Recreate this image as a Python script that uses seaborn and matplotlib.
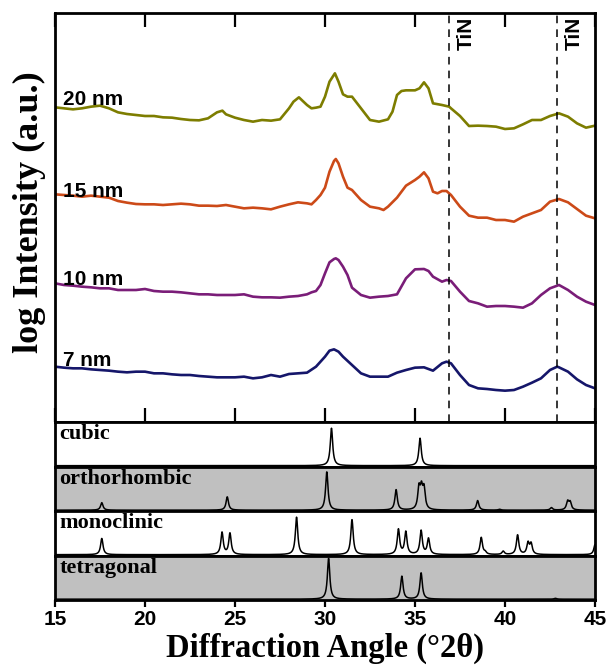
import numpy as np
import pandas as pd
import matplotlib
matplotlib.use("Agg")
import matplotlib.pyplot as plt
import seaborn as sns

# ---------------- data ----------------
# main XRD traces: angle (deg 2theta) and offset log-intensity (arb. units)
x20 = [15, 15.5, 16, 16.5, 17, 17.5, 18, 18.5, 19, 19.5, 20, 20.5, 21, 21.5, 22, 22.5, 23, 23.5,
       24, 24.3, 24.5, 25, 25.5, 26, 26.5, 27, 27.5, 28, 28.25, 28.55, 29, 29.25, 29.5, 29.75,
       30, 30.25, 30.55, 30.75, 31, 31.25, 31.5, 32, 32.5, 33, 33.5, 33.75, 34, 34.25, 34.5, 35,
       35.25, 35.5, 35.75, 36, 36.5, 36.9, 37, 37.5, 38, 38.5, 39, 39.5, 40, 40.5, 41, 41.5, 42,
       42.5, 43, 43.5, 44, 44.5, 45]
zy20 = [157, 160, 163, 160, 155, 152, 160, 172, 177, 180, 183, 183, 187, 188, 192, 195, 196, 190,
        172, 167, 178, 188, 195, 200, 195, 197, 193, 160, 140, 127, 150, 160, 158, 155,
        125, 80, 55, 80, 118, 125, 125, 160, 195, 200, 193, 170, 120, 108, 106, 106,
        100, 82, 100, 145, 150, 155, 160, 183, 213, 212, 213, 215, 222, 220, 208, 195, 195,
        183, 175, 185, 205, 218, 212]
i20 = [367 - v / 3 for v in zy20]

x15 = [15, 15.5, 16, 16.5, 17, 17.5, 18, 18.5, 19, 19.5, 20, 20.5, 21, 21.5, 22, 22.5, 23, 23.5,
       24, 24.5, 25, 25.5, 26, 26.5, 27, 27.5, 28, 28.5, 29, 29.25, 29.5, 29.75, 30, 30.25, 30.5,
       30.6, 30.75, 31, 31.25, 31.5, 32, 32.5, 33, 33.25, 33.5, 34, 34.5, 35, 35.25, 35.5, 35.75,
       36, 36.25, 36.5, 36.75, 37, 37.5, 38, 38.5, 39, 39.5, 40, 40.5, 41, 41.5, 42, 42.5, 43,
       43.5, 44, 44.5, 45]
zy15 = [148, 150, 152, 155, 152, 155, 158, 168, 173, 177, 178, 178, 180, 178, 176, 178, 182, 182,
        183, 180, 185, 190, 188, 190, 193, 185, 178, 172, 175, 178, 165, 150, 128, 80, 48,
        42, 55, 95, 128, 135, 165, 185, 190, 195, 185, 158, 122, 105, 95, 82, 100,
        140, 145, 138, 138, 150, 185, 212, 218, 218, 225, 225, 230, 215, 205, 195, 170, 162,
        172, 192, 212, 220]
i15 = [277 - v / 3 for v in zy15]

x10 = [15, 15.5, 16, 16.5, 17, 17.5, 18, 18.5, 19, 19.5, 20, 20.5, 21, 21.5, 22, 22.5, 23, 23.5,
       24, 24.5, 25, 25.5, 26, 26.5, 27, 27.5, 28, 28.5, 29, 29.25, 29.5, 29.75, 30, 30.25, 30.5,
       30.6, 30.75, 31, 31.25, 31.5, 32, 32.5, 33, 33.5, 34, 34.5, 35, 35.5, 35.75, 36, 36.5,
       36.75, 37, 37.5, 38, 38.5, 39, 39.5, 40, 40.5, 41, 41.5, 42, 42.5, 43, 43.5, 44, 44.5, 45]
zy10 = [145, 150, 152, 155, 157, 160, 160, 165, 165, 165, 162, 168, 170, 170, 172, 175, 178, 178,
        180, 180, 180, 178, 185, 187, 187, 188, 185, 183, 178, 172, 168, 150, 115, 82, 72,
        70, 75, 95, 120, 158, 180, 188, 185, 183, 178, 130, 103, 102, 108, 125, 140,
        135, 138, 170, 198, 205, 215, 213, 213, 215, 218, 205, 180, 160, 150, 165, 185, 200, 210]
i10 = [187 - v / 3 for v in zy10]

x7 = [15, 15.5, 16, 16.5, 17, 17.5, 18, 18.5, 19, 19.5, 20, 20.5, 21, 21.5, 22, 22.5, 23, 23.5,
      24, 24.5, 25, 25.5, 26, 26.5, 27, 27.5, 28, 28.5, 29, 29.5, 30, 30.25, 30.5, 30.75, 31,
      31.5, 32, 32.5, 33, 33.5, 34, 34.5, 35, 35.5, 36, 36.5, 36.75, 37, 37.5, 38, 38.5, 39,
      39.5, 40, 40.5, 41, 41.5, 42, 42.5, 42.9, 43, 43.5, 44, 44.5, 45]
zy7 = [140, 143, 145, 145, 148, 150, 152, 155, 157, 155, 155, 160, 160, 163, 165, 165, 168, 170,
       172, 172, 172, 170, 175, 172, 165, 170, 162, 160, 158, 140, 110, 92, 88, 95, 110,
       135, 160, 170, 170, 170, 158, 150, 143, 142, 152, 130, 125, 130, 165, 195, 205, 207,
       210, 212, 210, 200, 188, 175, 150, 140, 142, 155, 178, 195, 205]
i7 = [102 - v / 3 for v in zy7]

sample_labels = ["20 nm", "15 nm", "10 nm", "7 nm"]
sample_colors = ["#7d7d00", "#cc4a18", "#7a1d78", "#15166a"]
label_y = [317, 225, 137, 56]

tin_positions = [36.9, 42.9]

# reference phases: peak positions (deg) and relative heights
phase_names = ["cubic", "orthorhombic", "monoclinic", "tetragonal"]
cubic_pos = [30.36, 35.28]
cubic_h = [0.90, 0.66]
ortho_pos = [17.6, 24.57, 30.1, 33.95, 35.22, 35.36, 35.5, 38.48, 39.7, 42.58, 43.48, 43.62]
ortho_h = [0.18, 0.32, 0.92, 0.49, 0.50, 0.46, 0.48, 0.23, 0.02, 0.06, 0.20, 0.18]
mono_pos = [17.6, 24.28, 24.72, 28.42, 31.5, 34.08, 34.49, 35.34, 35.75, 38.68, 38.9, 39.9,
            40.7, 41.28, 41.45, 45.0]
mono_h = [0.39, 0.53, 0.51, 0.90, 0.84, 0.60, 0.54, 0.57, 0.38, 0.41, 0.05, 0.08,
          0.47, 0.27, 0.25, 0.24]
tetra_pos = [30.2, 34.27, 35.34, 42.8]
tetra_h = [0.98, 0.55, 0.63, 0.02]
phase_peaks = [(cubic_pos, cubic_h), (ortho_pos, ortho_h), (mono_pos, mono_h), (tetra_pos, tetra_h)]
phase_bg = ["white", "#c0c0c0", "white", "#c0c0c0"]

xticks = [15, 20, 25, 30, 35, 40, 45]

# ---------------- figure ----------------
sns.set_theme(style="ticks")
plt.rcParams["font.family"] = ["Liberation Sans", "DejaVu Sans"]
plt.rcParams["text.color"] = "black"
plt.rcParams["axes.labelcolor"] = "black"
plt.rcParams["xtick.color"] = "black"
plt.rcParams["ytick.color"] = "black"
plt.rcParams["axes.edgecolor"] = "black"

W, H = 609, 671
fig = plt.figure(figsize=(W / 100, H / 100), dpi=100)

def frac(l, t, r, b):
    return [l / W, 1 - b / H, (r - l) / W, (b - t) / H]

L, R = 55, 595
ax = fig.add_axes(frac(L, 13, R, 422))

curves = [(x20, i20), (x15, i15), (x10, i10), (x7, i7)]
for (xs, ys), lab, col in zip(curves, sample_labels, sample_colors):
    df = pd.DataFrame({"angle": xs, "intensity": ys})
    sns.lineplot(data=df, x="angle", y="intensity", ax=ax, color=col, lw=1.9,
                 estimator=None, sort=False)

for lab, yv in zip(sample_labels, label_y):
    ax.text(15.45, yv, lab, fontsize=15, fontweight="bold", ha="left", va="baseline",
            color="black", family=["Liberation Sans", "DejaVu Sans"])

for p in tin_positions:
    ax.axvline(p, color="black", lw=1.1, ls=(0, (5, 4)))
    ax.text(p + 0.4, 405, "TiN", rotation=90, fontsize=15, fontweight="bold",
            ha="left", va="top", color="black", family=["Liberation Sans", "DejaVu Sans"])

ax.set_xlim(15, 45)
ax.set_ylim(0, 409)
ax.set_xticks(xticks)
ax.set_yticks([])
ax.tick_params(axis="x", direction="in", top=True, bottom=True, labelbottom=False,
               length=10, width=1.6, color="black")
ax.set_xlabel("")
ax.set_ylabel("log Intensity (a.u.)", fontsize=26, fontweight="bold",
              family=["Liberation Serif", "DejaVu Serif"])
ax.yaxis.set_label_coords(-0.016, 0.513)
for s in ax.spines.values():
    s.set_linewidth(2.0)
    s.set_color("black")

# reference panels
edges = [422, 466.5, 511, 555.5, 600]
grid = np.linspace(15, 45, 3001)
gamma = 0.08
for k, (name, (pos, hts), bg) in enumerate(zip(phase_names, phase_peaks, phase_bg)):
    a = fig.add_axes(frac(L, edges[k], R, edges[k + 1]))
    a.set_facecolor(bg)
    prof = np.zeros_like(grid)
    for p, h in zip(pos, hts):
        prof = prof + h * gamma ** 2 / ((grid - p) ** 2 + gamma ** 2)
    dfp = pd.DataFrame({"angle": grid, "intensity": prof})
    sns.lineplot(data=dfp, x="angle", y="intensity", ax=a, color="black", lw=1.1,
                 estimator=None, sort=False)
    a.set_xlim(15, 45)
    a.set_ylim(-0.02, 1.05)
    a.set_yticks([])
    a.set_xlabel("")
    a.set_ylabel("")
    a.text(0.008, 0.95, name, transform=a.transAxes, fontsize=16, fontweight="bold",
           ha="left", va="top", color="black", family=["Liberation Serif", "DejaVu Serif"])
    for s in a.spines.values():
        s.set_linewidth(2.0)
        s.set_color("black")
    a.set_xticks(xticks)
    if k < 3:
        a.tick_params(axis="x", bottom=False, labelbottom=False)
    else:
        a.tick_params(axis="x", direction="out", length=5, width=1.6, color="black",
                      labelsize=15, pad=2, labelcolor="black")
        for t in a.get_xticklabels():
            t.set_fontweight("bold")
        a.set_xlabel("Diffraction Angle (°2θ)", fontsize=23.5, fontweight="bold",
                     family=["Liberation Serif", "DejaVu Serif"], labelpad=3)

fig.savefig("out.png", dpi=100)
